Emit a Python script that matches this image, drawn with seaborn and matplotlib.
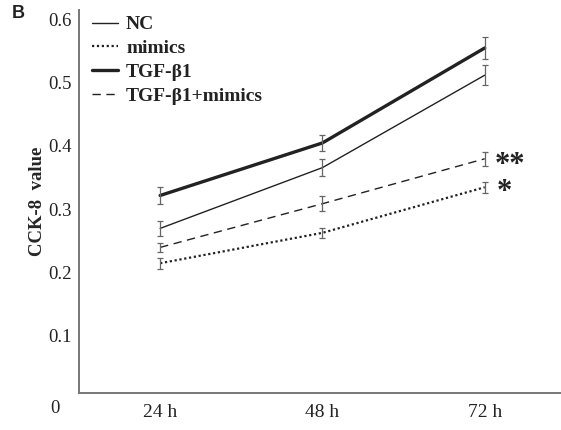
import numpy as np
import pandas as pd
import matplotlib
matplotlib.use("Agg")
import matplotlib.pyplot as plt
import matplotlib.transforms as mtransforms
import seaborn as sns

# data
times = ["24 h", "48 h", "72 h"]
groups = ["NC", "mimics", "TGF-β1", "TGF-β1+mimics"]
nc = [0.260, 0.356, 0.502]
mimics = [0.205, 0.253, 0.325]
tgf = [0.312, 0.395, 0.545]
tgf_mimics = [0.230, 0.299, 0.370]
nc_err = [0.012, 0.014, 0.016]
mimics_err = [0.009, 0.008, 0.009]
tgf_err = [0.013, 0.013, 0.018]
tgf_mimics_err = [0.007, 0.012, 0.011]

rows = []
for g, vals, errs in zip(groups, [nc, mimics, tgf, tgf_mimics],
                         [nc_err, mimics_err, tgf_err, tgf_mimics_err]):
    for i, (v, e) in enumerate(zip(vals, errs)):
        rows.append({"group": g, "t": i, "value": v, "err": e})
df = pd.DataFrame(rows)

sns.set_style("white")
plt.rcParams["font.family"] = ["Liberation Serif", "DejaVu Serif"]
plt.rcParams["text.color"] = "#222222"

fig = plt.figure(figsize=(5.61, 4.30), dpi=100)
ax = fig.add_axes([79 / 561, 37 / 430, 482 / 561, 383 / 430])

styles = {
    "NC": dict(lw=1.0, ls="-"),
    "mimics": dict(lw=1.6, ls=(0, (1, 1.2))),
    "TGF-β1": dict(lw=2.4, ls="-"),
    "TGF-β1+mimics": dict(lw=1.0, ls=(0, (6, 4))),
}
for g in groups:
    sub = df[df.group == g]
    sns.lineplot(data=sub, x="t", y="value", ax=ax, color="#222222",
                 errorbar=None, label=g, **styles[g])
    ax.errorbar(sub.t, sub.value, yerr=sub.err, fmt="none", ecolor="#666666",
                elinewidth=0.9, capsize=2.2, capthick=0.9)

ax.set_xlim(-0.5, 2.47)
ax.set_ylim(0, 0.605)
ax.set_xticks([0, 1, 2])
ax.set_xticklabels(times, fontsize=14, color="#222222")
ax.set_yticks([0.1, 0.2, 0.3, 0.4, 0.5, 0.6])
ax.set_yticklabels(["0.1", "0.2", "0.3", "0.4", "0.5", "0.6"], fontsize=13.5,
                   color="#222222")
ax.tick_params(axis="y", direction="in", length=2, width=0.8, color="#777777", pad=5)
ax.tick_params(axis="x", length=0, pad=8)
# labels in the scan sit a little below their ticks
shift = mtransforms.ScaledTranslation(0, -6 / 100, fig.dpi_scale_trans)
for lab in ax.get_yticklabels():
    lab.set_transform(lab.get_transform() + shift)
# lone zero label sits below the x axis in the original
ax.text(-0.05, -0.04, "0", transform=ax.transAxes, fontsize=13.5,
        ha="center", va="center")
ax.set_xlabel("")
ax.set_ylabel("CCK-8  value", fontsize=13.5, fontweight="bold", labelpad=2)

for s in ["top", "right"]:
    ax.spines[s].set_visible(False)
for s in ["left", "bottom"]:
    ax.spines[s].set_color("#777777")
    ax.spines[s].set_linewidth(1.4)

leg = ax.legend(loc="upper left", bbox_to_anchor=(0.027, 0.985), frameon=False,
                prop={"family": "Liberation Serif", "weight": "bold", "size": 14},
                handlelength=1.35, handletextpad=0.4, labelspacing=0.32,
                borderpad=0, borderaxespad=0)

ax.text(2.064, 0.36, "**", fontsize=22, fontweight="bold", va="center", ha="left")
ax.text(2.076, 0.317, "*", fontsize=22, fontweight="bold", va="center", ha="left")

fig.text(12 / 561, 1 - 13 / 430, "B", fontsize=13, fontweight="bold",
         family="Liberation Sans", va="center")

plt.savefig("out.png", dpi=100)
